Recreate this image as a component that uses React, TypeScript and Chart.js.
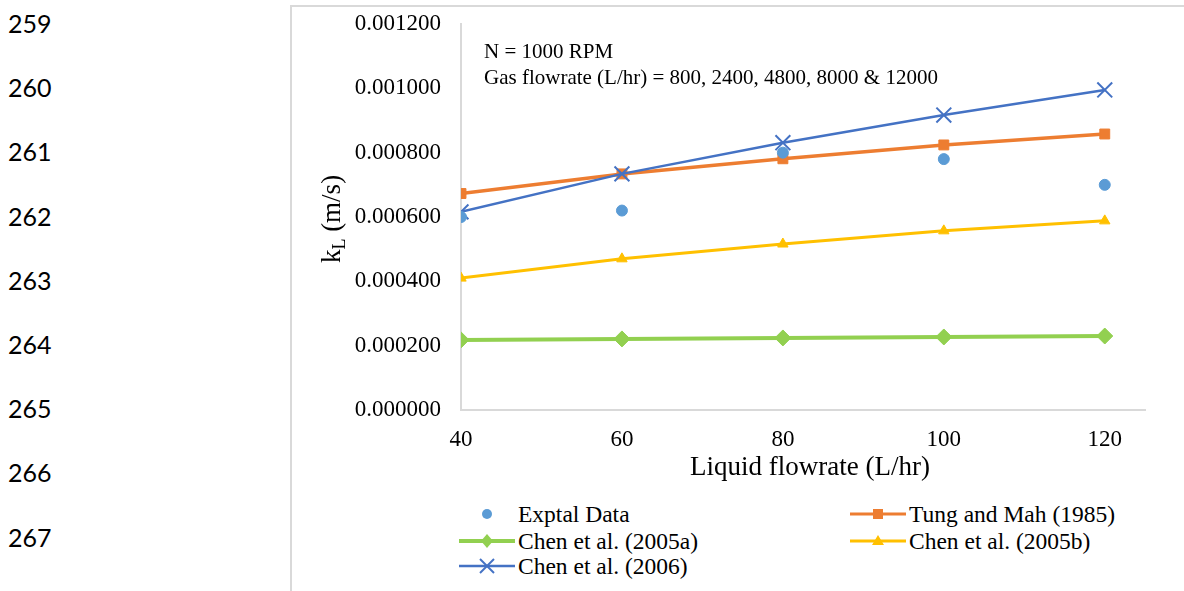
import React, { useEffect, useRef } from "react";
import { Chart, registerables } from "chart.js";

Chart.register(...registerables);

// ---------- data ----------
const liquidFlowrates = [40, 60, 80, 100, 120];
const exptalData = [0.0006, 0.00062, 0.0008, 0.00078, 0.0007];
const tungMah1985 = [0.000673, 0.000734, 0.000781, 0.000824, 0.000858];
const chen2005a = [0.000218, 0.000221, 0.000224, 0.000227, 0.00023];
const chen2005b = [0.00041, 0.00047, 0.000516, 0.000557, 0.000588];
const chen2006 = [0.000616, 0.000734, 0.000831, 0.000917, 0.000995];

const xTickValues = [40, 60, 80, 100, 120];
const yTickValues = [0, 0.0002, 0.0004, 0.0006, 0.0008, 0.001, 0.0012];

const xAxisTitle = "Liquid flowrate (L/hr)";
const annotationLines = [
  "N = 1000 RPM",
  "Gas flowrate (L/hr) = 800, 2400, 4800, 8000 & 12000",
];
const lineNumbers = [259, 260, 261, 262, 263, 264, 265, 266, 267, 268];

const seriesNames = [
  "Exptal Data",
  "Tung and Mah (1985)",
  "Chen et al. (2005a)",
  "Chen et al. (2005b)",
  "Chen et al. (2006)",
];

const COLORS = {
  exptal: "#5B9BD5",
  tung: "#ED7D31",
  c05a: "#92D050",
  c05b: "#FFC000",
  c06: "#4472C4",
};

const SERIF = '"Liberation Serif", "Times New Roman", serif';

const toXY = (ys: number[]) => liquidFlowrates.map((x, i) => ({ x, y: ys[i] }));

// ---------- plugins ----------
const axisTitlesPlugin = {
  id: "axisTitles",
  afterDraw(chart: any) {
    const { ctx, chartArea } = chart;
    // y title with subscript
    const cx = 38;
    const cy = (chartArea.top + chartArea.bottom) / 2 + 2;
    ctx.save();
    ctx.translate(cx, cy);
    ctx.rotate(-Math.PI / 2);
    ctx.fillStyle = "#000";
    ctx.textBaseline = "alphabetic";
    const big = `27px ${SERIF}`;
    const small = `18px ${SERIF}`;
    ctx.font = big;
    const w1 = ctx.measureText("k").width;
    const w3 = ctx.measureText(" (m/s)").width;
    ctx.font = small;
    const w2 = ctx.measureText("L").width;
    let x = -(w1 + w2 + w3) / 2;
    const base = 10;
    ctx.font = big;
    ctx.fillText("k", x, base);
    x += w1;
    ctx.font = small;
    ctx.fillText("L", x, base + 5);
    x += w2;
    ctx.font = big;
    ctx.fillText(" (m/s)", x, base);
    ctx.restore();

    // x title
    ctx.save();
    ctx.fillStyle = "#000";
    ctx.font = `27px ${SERIF}`;
    ctx.textAlign = "center";
    ctx.textBaseline = "middle";
    ctx.fillText(xAxisTitle, (chartArea.left + chartArea.right) / 2 + 7, chartArea.bottom + 58);
    ctx.restore();
  },
};

const annotationPlugin = {
  id: "annot",
  afterDraw(chart: any) {
    const { ctx } = chart;
    ctx.save();
    ctx.fillStyle = "#000";
    ctx.font = `21px ${SERIF}`;
    ctx.textBaseline = "middle";
    ctx.textAlign = "left";
    annotationLines.forEach((t, i) => ctx.fillText(t, 192, 52 + i * 26));
    ctx.restore();
  },
};

// ---------- legend marker ----------
function LegendSwatch({ kind, color }: { kind: string; color: string }) {
  const w = 56;
  const h = 20;
  const cx = w / 2;
  const cy = h / 2;
  let marker: any = null;
  if (kind === "circle") marker = <circle cx={cx} cy={cy} r={5} fill={color} />;
  if (kind === "rect") marker = <rect x={cx - 5} y={cy - 5} width={10} height={10} fill={color} />;
  if (kind === "diamond")
    marker = (
      <polygon
        points={`${cx},${cy - 7} ${cx + 6},${cy} ${cx},${cy + 7} ${cx - 6},${cy}`}
        fill={color}
      />
    );
  if (kind === "triangle")
    marker = (
      <polygon
        points={`${cx},${cy - 6} ${cx + 6},${cy + 4} ${cx - 6},${cy + 4}`}
        fill={color}
      />
    );
  if (kind === "cross")
    marker = (
      <g stroke={color} strokeWidth={2}>
        <line x1={cx - 7} y1={cy - 7} x2={cx + 7} y2={cy + 7} />
        <line x1={cx - 7} y1={cy + 7} x2={cx + 7} y2={cy - 7} />
      </g>
    );
  const lw = kind === "diamond" ? 4 : kind === "cross" ? 2.5 : 3;
  return (
    <svg width={w} height={h} style={{ display: "block" }}>
      {kind !== "circle" && (
        <line x1={0} y1={cy} x2={w} y2={cy} stroke={color} strokeWidth={lw} />
      )}
      {marker}
    </svg>
  );
}

const legendItems = [
  { name: seriesNames[0], kind: "circle", color: COLORS.exptal, left: 459, top: 514 },
  { name: seriesNames[1], kind: "rect", color: COLORS.tung, left: 850, top: 514 },
  { name: seriesNames[2], kind: "diamond", color: COLORS.c05a, left: 459, top: 541 },
  { name: seriesNames[3], kind: "triangle", color: COLORS.c05b, left: 850, top: 541 },
  { name: seriesNames[4], kind: "cross", color: COLORS.c06, left: 459, top: 566 },
];

export default function App() {
  const ref = useRef<HTMLCanvasElement>(null);

  useEffect(() => {
    const canvas = ref.current;
    if (!canvas) return;
    const chart = new Chart(canvas, {
      type: "line",
      data: {
        datasets: [
          {
            label: seriesNames[0],
            data: toXY(exptalData),
            showLine: false,
            pointStyle: "circle",
            pointRadius: 5.5,
            pointBackgroundColor: COLORS.exptal,
            pointBorderColor: COLORS.exptal,
            borderColor: COLORS.exptal,
            backgroundColor: COLORS.exptal,
            order: 0,
          },
          {
            label: seriesNames[1],
            data: toXY(tungMah1985),
            borderColor: COLORS.tung,
            backgroundColor: COLORS.tung,
            borderWidth: 3.5,
            pointStyle: "rect",
            pointRadius: 7,
            pointBackgroundColor: COLORS.tung,
            pointBorderColor: COLORS.tung,
            pointBorderWidth: 1,
            order: 2,
          },
          {
            label: seriesNames[2],
            data: toXY(chen2005a),
            borderColor: COLORS.c05a,
            backgroundColor: COLORS.c05a,
            borderWidth: 4,
            pointStyle: "rectRot",
            pointRadius: 8,
            pointBackgroundColor: COLORS.c05a,
            pointBorderColor: COLORS.c05a,
            pointBorderWidth: 1,
            order: 3,
          },
          {
            label: seriesNames[3],
            data: toXY(chen2005b),
            borderColor: COLORS.c05b,
            backgroundColor: COLORS.c05b,
            borderWidth: 3,
            pointStyle: "triangle",
            pointRadius: 6,
            pointBackgroundColor: COLORS.c05b,
            pointBorderColor: COLORS.c05b,
            pointBorderWidth: 1,
            order: 4,
          },
          {
            label: seriesNames[4],
            data: toXY(chen2006),
            borderColor: COLORS.c06,
            backgroundColor: COLORS.c06,
            borderWidth: 2.5,
            pointStyle: "crossRot",
            pointRadius: 10.5,
            pointBorderColor: COLORS.c06,
            pointBorderWidth: 2,
            order: 1,
          },
        ],
      },
      options: {
        responsive: false,
        animation: false,
        layout: {
          padding: { top: 24, right: 39, bottom: 0, left: 0 },
        },
        plugins: { legend: { display: false }, tooltip: { enabled: false } },
        elements: { line: { tension: 0 } },
        scales: {
          x: {
            type: "linear",
            min: 40,
            max: 125,
            afterBuildTicks: (s: any) => {
              s.ticks = xTickValues.map((v) => ({ value: v }));
            },
            afterFit: (s: any) => {
              s.height = 80;
            },
            grid: { display: false, drawTicks: true, tickLength: 8 },
            border: { display: true, color: "#d9d9d9", width: 2 },
            ticks: {
              padding: 8,
              color: "#000",
              font: { family: SERIF, size: 23 },
              maxRotation: 0,
            },
            title: { display: false },
          },
          y: {
            type: "linear",
            min: 0,
            max: 0.0012,
            afterBuildTicks: (s: any) => {
              s.ticks = yTickValues.map((v) => ({ value: v }));
            },
            afterFit: (s: any) => {
              s.width = 169;
            },
            grid: { display: false, drawTicks: true, tickLength: 12 },
            border: { display: true, color: "#d9d9d9", width: 2 },
            ticks: {
              padding: 8,
              color: "#000",
              font: { family: SERIF, size: 23 },
              callback: (v: any) => Number(v).toFixed(6),
            },
          },
        },
      },
      plugins: [axisTitlesPlugin, annotationPlugin],
    } as any);
    return () => chart.destroy();
  }, []);

  return (
    <div
      style={{
        position: "fixed",
        left: 0,
        top: 0,
        width: 1184,
        height: 591,
        overflow: "hidden",
        background: "#fff",
      }}
    >
      {lineNumbers.map((n, i) => (
        <div
          key={n}
          style={{
            position: "absolute",
            left: 8,
            top: 24 + i * 64.2 - 17,
            height: 32,
            lineHeight: "32px",
            fontFamily: "Lato, 'Noto Sans', sans-serif",
            fontSize: 25,
            color: "#000",
          }}
        >
          {n}
        </div>
      ))}
      <div
        style={{
          position: "absolute",
          left: 290,
          top: 5,
          width: 1000,
          height: 700,
          borderLeft: "2px solid #d9d9d9",
          borderTop: "2px solid #d9d9d9",
        }}
      />
      <canvas
        ref={ref}
        width={892}
        height={490}
        style={{ position: "absolute", left: 292, top: 0, width: 892, height: 490 }}
      />
      {legendItems.map((it) => (
        <div
          key={it.name}
          style={{
            position: "absolute",
            left: it.left,
            top: it.top - 14,
            height: 28,
            display: "flex",
            alignItems: "center",
            fontFamily: SERIF,
            fontSize: 23.5,
            color: "#000",
            whiteSpace: "nowrap",
          }}
        >
          <LegendSwatch kind={it.kind} color={it.color} />
          <span style={{ marginLeft: 3 }}>{it.name}</span>
        </div>
      ))}
    </div>
  );
}
